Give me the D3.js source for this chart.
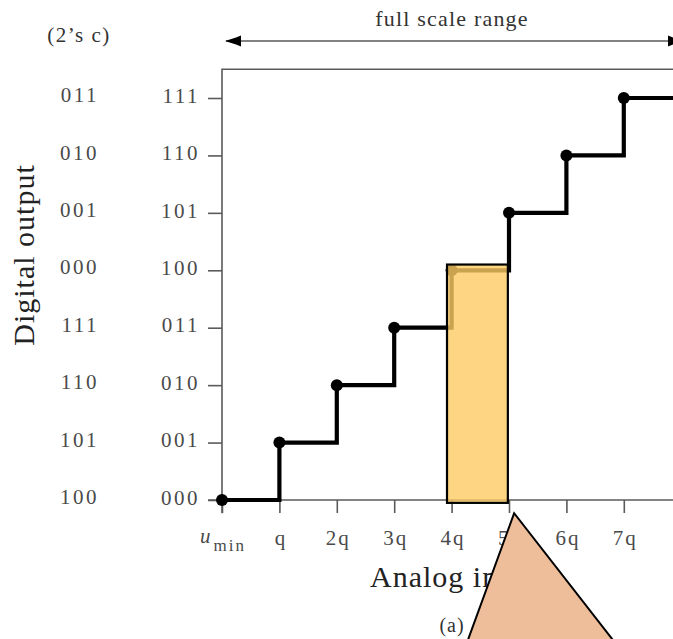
<!DOCTYPE html>
<html>
<head>
<meta charset="utf-8">
<script src="https://cdn.jsdelivr.net/npm/d3@7"></script>
<style>
  body { margin: 0; background: #fff; }
  svg { display: block; overflow: hidden; }
  text { font-family: "Liberation Serif", "DejaVu Serif", serif; }
</style>
</head>
<body>
<div id="box-div"></div>
<script>
// - data
const levels = [0, 1, 2, 3, 4, 5, 6, 7]
const binaryCodes = ['000', '001', '010', '011', '100', '101', '110', '111']
const twosCodes = ['100', '101', '110', '111', '000', '001', '010', '011']
const xTickLabels = ['umin', 'q', '2q', '3q', '4q', '5q', '6q', '7q']
// transfer staircase: code k reached at input k*q
const stepX = [0, 1, 2, 3, 4, 5, 6, 7]
const stepY = [0, 1, 2, 3, 4, 5, 6, 7]
// highlighted bin and pointer (data units)
const highlightX = [3.92, 4.98]
const highlightY = [-0.05, 4.1]
const pointerX = [5.09, 4.28, 6.82]
const pointerY = [-0.23, -2.45, -2.45]

const dms = { width: 673, height: 639 }

const x = d3.scaleLinear().domain([0, 8]).range([222, 681.2])
const y = d3.scaleLinear().domain([0, 7]).range([500, 98])

const svg = d3.select('#box-div')
  .append('svg')
  .attr('width', dms.width)
  .attr('height', dms.height)

const gray = '#5a5a5a'
const labelColor = '#4a4a4a'

// frame (left + top)
svg.append('path')
  .attr('d', `M${x(0)},${y(-0.23)} V${y(7.5)} H${x(8.5)}`)
  .attr('fill', 'none')
  .attr('stroke', gray)
  .attr('stroke-width', 1.6)

// bottom baseline
svg.append('line')
  .attr('x1', x(-0.24)).attr('x2', x(8.5))
  .attr('y1', y(0)).attr('y2', y(0))
  .attr('stroke', gray)
  .attr('stroke-width', 1.6)

// y axis ticks + binary labels
const yAxis = svg.append('g')
  .attr('transform', `translate(${x(0)},0)`)
  .call(d3.axisLeft(y).tickValues(levels).tickSize(14).tickPadding(8)
    .tickFormat(d => binaryCodes[d]))
yAxis.select('.domain').remove()
yAxis.selectAll('line').attr('stroke', gray).attr('stroke-width', 1.6)
yAxis.selectAll('text')
  .attr('fill', labelColor)
  .attr('dy', '0.2em')
  .style('font-size', '21px')
  .style('letter-spacing', '2.5px')
  .style('font-family', '"Liberation Serif", serif')

// 2's complement column
svg.append('g')
  .selectAll('text')
  .data(levels)
  .join('text')
  .attr('x', 99)
  .attr('y', d => y(d))
  .attr('dy', '0.2em')
  .attr('text-anchor', 'end')
  .attr('fill', labelColor)
  .style('font-size', '21px')
  .style('letter-spacing', '2.5px')
  .text(d => twosCodes[d])

// x axis ticks
const xAxis = svg.append('g')
  .attr('transform', `translate(0,${y(0)})`)
  .call(d3.axisBottom(x).tickValues(levels).tickSize(13).tickPadding(17)
    .tickFormat(d => d === 0 ? '' : xTickLabels[d]))
xAxis.select('.domain').remove()
xAxis.selectAll('line').attr('stroke', gray).attr('stroke-width', 1.6)
xAxis.selectAll('text')
  .attr('fill', labelColor)
  .attr('dx', '1px')
  .style('font-size', '21px')
  .style('letter-spacing', '2px')
  .style('font-family', '"Liberation Serif", serif')

// u_min label
const umin = svg.append('text')
  .attr('x', x(0) + 1)
  .attr('y', 543)
  .attr('text-anchor', 'middle')
  .attr('fill', labelColor)
  .style('font-size', '21px')
umin.append('tspan').style('font-style', 'italic').text('u')
umin.append('tspan').attr('dx', 3).attr('dy', 8)
  .style('font-size', '17px').style('letter-spacing', '2px').text('min')

// staircase
const stepPts = stepX.map((d, i) => [d, stepY[i]])
stepPts.push([8.5, 7])
const line = d3.line()
  .x(d => x(d[0]))
  .y(d => y(d[1]))
  .curve(d3.curveStepAfter)

svg.append('path')
  .attr('d', line(stepPts))
  .attr('fill', 'none')
  .attr('stroke', '#000')
  .attr('stroke-width', 4.2)

svg.append('g')
  .selectAll('circle')
  .data(stepX)
  .join('circle')
  .attr('cx', d => x(d))
  .attr('cy', (d, i) => y(stepY[i]))
  .attr('r', 6)
  .attr('fill', '#000')

// highlighted bin
svg.append('rect')
  .attr('x', x(highlightX[0]))
  .attr('y', y(highlightY[1]))
  .attr('width', x(highlightX[1]) - x(highlightX[0]))
  .attr('height', y(highlightY[0]) - y(highlightY[1]))
  .attr('fill', 'rgb(253,202,100)')
  .attr('fill-opacity', 0.8)
  .attr('stroke', '#000')
  .attr('stroke-width', 2.2)

// full scale range arrow
const defs = svg.append('defs')
defs.append('marker')
  .attr('id', 'head')
  .attr('viewBox', '0 0 16 12')
  .attr('refX', 15)
  .attr('refY', 6)
  .attr('markerWidth', 16)
  .attr('markerHeight', 12)
  .attr('markerUnits', 'userSpaceOnUse')
  .attr('orient', 'auto-start-reverse')
  .append('path')
  .attr('d', 'M0,0.5 L5,2.5 L16,6 L5,9.5 L0,11.5 Z')
  .attr('fill', '#000')

svg.append('line')
  .attr('x1', x(0) + 4).attr('x2', x(8.03))
  .attr('y1', 41).attr('y2', 41)
  .attr('stroke', gray)
  .attr('stroke-width', 1.6)
  .attr('marker-start', 'url(#head)')
  .attr('marker-end', 'url(#head)')

svg.append('text')
  .attr('x', 452)
  .attr('y', 26)
  .attr('text-anchor', 'middle')
  .attr('fill', '#333')
  .style('font-size', '22px')
  .style('letter-spacing', '1.2px')
  .text('full scale range')

svg.append('text')
  .attr('x', 79)
  .attr('y', 42)
  .attr('text-anchor', 'middle')
  .attr('fill', '#333')
  .style('font-size', '21px')
  .style('letter-spacing', '1.5px')
  .text('(2’s c)')

// axis titles
svg.append('text')
  .attr('transform', `translate(34,255) rotate(-90)`)
  .attr('text-anchor', 'middle')
  .attr('fill', '#222')
  .style('font-size', '30px')
  .style('letter-spacing', '1px')
  .text('Digital output')

svg.append('text')
  .attr('x', 370)
  .attr('y', 587)
  .attr('fill', '#222')
  .style('font-size', '30px')
  .style('letter-spacing', '1px')
  .text('Analog input')

svg.append('text')
  .attr('x', 452)
  .attr('y', 632)
  .attr('text-anchor', 'middle')
  .attr('fill', '#333')
  .style('font-size', '20px')
  .style('letter-spacing', '1px')
  .text('(a)')

// pointer triangle overlay
const tri = pointerX.map((d, i) => [x(d), y(pointerY[i])])
svg.append('path')
  .attr('d', d3.line()(tri) + 'Z')
  .attr('fill', '#eebe9a')
  .attr('stroke', '#000')
  .attr('stroke-width', 2)
</script>
</body>
</html>
